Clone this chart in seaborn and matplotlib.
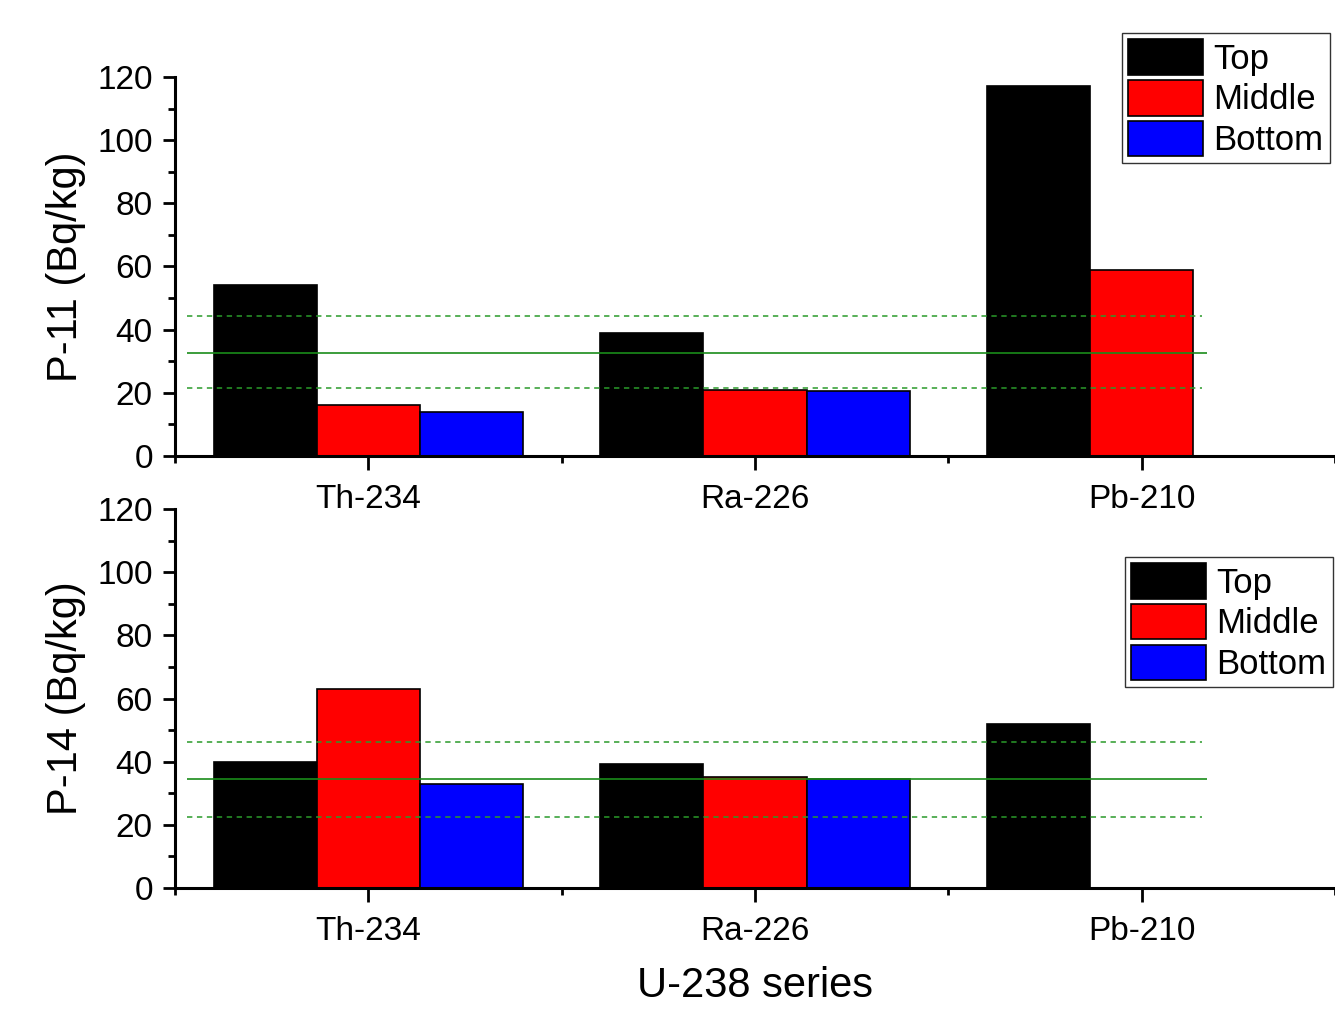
import numpy as np
import pandas as pd
import matplotlib
matplotlib.use("Agg")
import matplotlib.pyplot as plt
import seaborn as sns
from matplotlib.ticker import MultipleLocator, FixedLocator

# categories / series
nuclides = ["Th-234", "Ra-226", "Pb-210"]
layers = ["Top", "Middle", "Bottom"]
layer_colors = ["#000000", "#ff0000", "#0000ff"]

# P-11 values (Bq/kg), None = no bar
p11_top = [54, 39, 117]
p11_middle = [16, 21, 59]
p11_bottom = [14, 20.5, None]

# P-14 values (Bq/kg)
p14_top = [40, 39.3, 52]
p14_middle = [63, 35, None]
p14_bottom = [33, 34.5, None]

# reference lines: mean and mean +/- sd
p11_ref = [32.6, 44.4, 21.6]
p14_ref = [34.4, 46.2, 22.4]


def to_long(top, middle, bottom):
    rows = []
    for layer, vals in zip(layers, [top, middle, bottom]):
        for nuc, v in zip(nuclides, vals):
            if v is not None:
                rows.append({"nuclide": nuc, "layer": layer, "value": v})
    return pd.DataFrame(rows)


df11 = to_long(p11_top, p11_middle, p11_bottom)
df14 = to_long(p14_top, p14_middle, p14_bottom)

sns.set_style("ticks")
plt.rcParams['font.family'] = ['Liberation Sans', 'DejaVu Sans']
plt.rcParams.update({
    "text.color": "black",
    "axes.labelcolor": "black",
    "axes.edgecolor": "black",
    "xtick.color": "black",
    "ytick.color": "black",
})

fig = plt.figure(figsize=(13.35, 10.09), dpi=100)
ax1 = fig.add_axes([0.1311, 0.5481, 0.8689, 0.3756])
ax2 = fig.add_axes([0.1311, 0.1199, 0.8689, 0.3756])

panels = [
    (ax1, df11, "P-11 (Bq/kg)", p11_ref, (0.8404, 0.9673)),
    (ax2, df14, "P-14 (Bq/kg)", p14_ref, (0.8427, 0.4480)),
]

for ax, df, ylab, ref, leg_pos in panels:
    sns.barplot(data=df, x="nuclide", y="value", hue="layer",
                order=nuclides, hue_order=layers, palette=layer_colors,
                saturation=1, edgecolor="black", linewidth=1.2,
                errorbar=None, width=0.8, ax=ax)

    # mean line and +/- band
    ax.hlines(ref[0], -0.47, 2.17, colors="#1a8c1a", linewidth=1.2, zorder=5)
    ax.hlines(ref[1:], -0.47, 2.155, colors="#2a9a2a", linewidth=1.1,
              linestyles=(0, (3.5, 3)), zorder=5)

    ax.set_xlim(-0.5, 2.5)
    ax.set_ylim(0, 120)
    ax.yaxis.set_major_locator(MultipleLocator(20))
    ax.yaxis.set_minor_locator(MultipleLocator(10))
    ax.xaxis.set_minor_locator(FixedLocator([-0.5, 0.5, 1.5, 2.5]))

    sns.despine(ax=ax)
    for side in ["left", "bottom"]:
        ax.spines[side].set_linewidth(2.2)
    ax.tick_params(axis="both", which="major", direction="out",
                   length=9, width=2, labelsize=24, pad=7)
    ax.tick_params(axis="y", which="minor", direction="out", length=5, width=2)
    ax.tick_params(axis="x", which="minor", direction="out", length=5, width=2)
    ax.tick_params(axis="x", which="major", length=10, pad=10)

    ax.set_ylabel(ylab, fontsize=30, labelpad=8)
    ax.set_xlabel("")

    handles, labels = ax.get_legend_handles_labels()
    ax.get_legend().remove()
    leg = ax.legend(handles, labels, loc="upper left", bbox_to_anchor=leg_pos,
                    bbox_transform=fig.transFigure, fontsize=25,
                    frameon=True, fancybox=False, edgecolor="black",
                    handlelength=2.15, handleheight=1.2, labelspacing=0.12,
                    handletextpad=0.3, borderpad=0.18, borderaxespad=0)
    leg.get_frame().set_linewidth(1.0)

ax2.set_xlabel("U-238 series", fontsize=30, labelpad=14)

fig.savefig("out.png", dpi=100)
